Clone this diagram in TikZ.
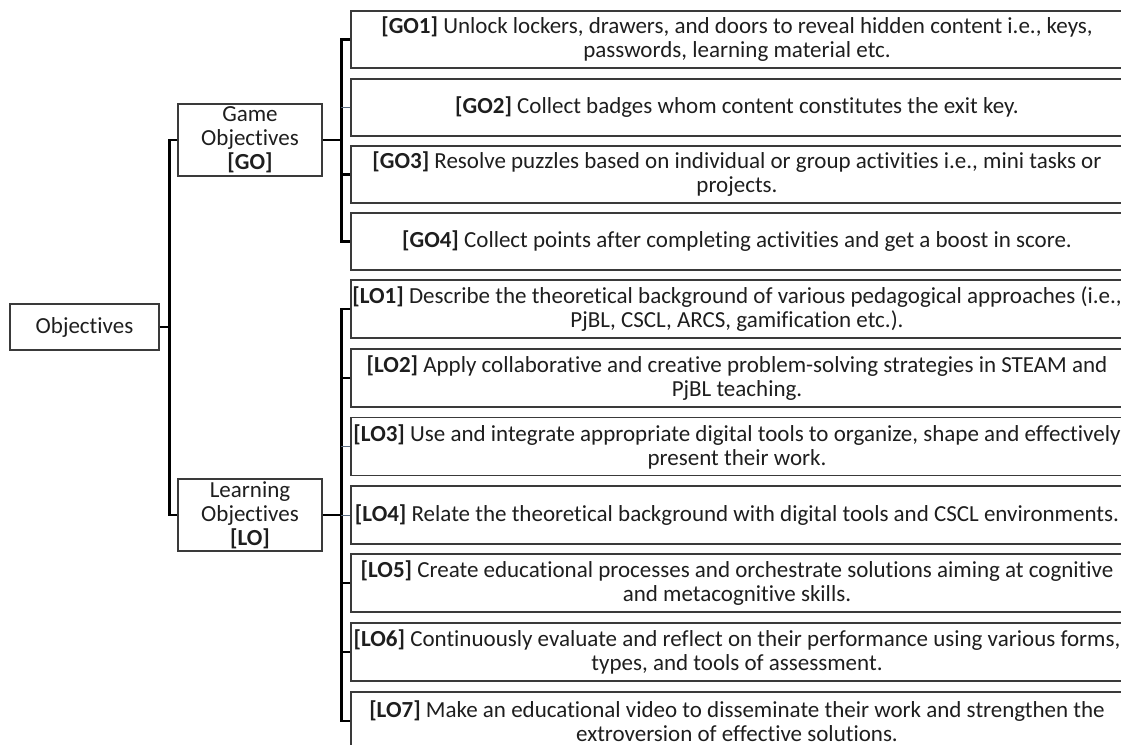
\documentclass[tikz,border=0pt]{standalone}
\usepackage{fontspec}
\setmainfont{Carlito}[RawFeature={-liga}]
\definecolor{txt}{HTML}{1E1E1E}
\definecolor{bord}{HTML}{3A3A3A}
\definecolor{faintline}{HTML}{5A6B80}
\begin{document}
\begin{tikzpicture}[x=1pt,y=-1pt,
  box/.style={draw=bord, line width=1.2pt, inner sep=0pt, align=center, text=txt,
    font=\fontsize{23}{24}\selectfont},
  gobox/.style={box, minimum width=772pt, minimum height=57pt},
  lobox/.style={box, minimum width=772pt, minimum height=58pt},
  conn/.style={draw=black, line width=2.2pt},
  faint/.style={draw=faintline, line width=0.9pt}]
\useasboundingbox (0,0) rectangle (1121,744);
% left
\node[box, minimum width=149pt, minimum height=46pt] (obj) at (84.5,327) {Objectives};
\node[box, minimum width=144pt, minimum height=72pt] (go) at (250,140)
  {Game\\Objectives\\\textbf{[GO]}};
\node[box, minimum width=144pt, minimum height=72pt] (lo) at (250,515)
  {Learning\\Objectives\\\textbf{[LO]}};
% game objectives
\node[gobox] (go1) at (737,39.5) {\textbf{[GO1]} Unlock lockers, drawers, and doors to reveal hidden content i.e., keys,\\passwords, learning material etc.};
\node[gobox] (go2) at (737,107.5) {\textbf{[GO2]} Collect badges whom content constitutes the exit key.};
\node[gobox] (go3) at (737,174.5) {\textbf{[GO3]} Resolve puzzles based on individual or group activities i.e., mini tasks or\\projects.};
\node[gobox] (go4) at (737,241.5) {\textbf{[GO4]} Collect points after completing activities and get a boost in score.};
% learning objectives
\node[lobox] (lo1) at (737,309) {\textbf{[LO1]} Describe the theoretical background of various pedagogical approaches (i.e.,\\PjBL, CSCL, ARCS, gamification etc.).};
\node[lobox] (lo2) at (737,378) {\textbf{[LO2]} Apply collaborative and creative problem-solving strategies in STEAM and\\PjBL teaching.};
\node[lobox] (lo3) at (737,446.5) {\textbf{[LO3]} Use and integrate appropriate digital tools to organize, shape and effectively\\present their work.};
\node[lobox] (lo4) at (737,515) {\textbf{[LO4]} Relate the theoretical background with digital tools and CSCL environments.};
\node[lobox] (lo5) at (737,583) {\textbf{[LO5]} Create educational processes and orchestrate solutions aiming at cognitive\\and metacognitive skills.};
\node[lobox] (lo6) at (737,652) {\textbf{[LO6]} Continuously evaluate and reflect on their performance using various forms,\\types, and tools of assessment.};
\node[lobox] (lo7) at (737,721) {\textbf{[LO7]} Make an educational video to disseminate their work and strengthen the\\extroversion of effective solutions.};
% connectors: root
\draw[conn] (obj.east) -- ++(11,0);
\draw[conn] (go.west) -- ++(-8,0) |- (lo.west);
% GO bracket
\draw[conn] (go.east) -- ++(20,0);
\draw[conn] (go1.west) -- ++(-9,0) |- (go4.west);
\draw[conn] (go3.west) -- ++(-9,0);
\draw[faint] (go2.west) -- ++(-9,0);
% LO bracket
\draw[conn] (lo.east) -- ++(20,0);
\draw[conn] (lo1.west) -- ++(-9,0) |- (lo7.west);
\draw[conn] (lo2.west) -- ++(-9,0);
\draw[faint] (lo3.west) -- ++(-9,0);
\draw[faint] (lo4.west) -- ++(-9,0);
\draw[conn] (lo5.west) -- ++(-9,0);
\draw[conn] (lo6.west) -- ++(-9,0);
\end{tikzpicture}
\end{document}
